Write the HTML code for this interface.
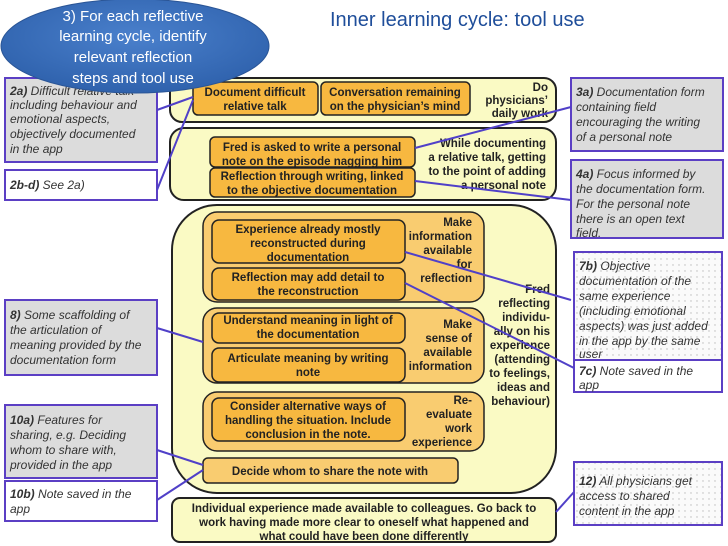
<!DOCTYPE html>
<html><head><meta charset="utf-8"><style>
html,body{margin:0;padding:0;background:#fff;}
svg{display:block;}
.b{font-family:"Liberation Sans",sans-serif;font-weight:bold;font-size:11.5px;fill:#222;}
.i{font-family:"Liberation Sans",sans-serif;font-style:italic;font-size:12px;fill:#333;}
</style></head><body>
<svg width="728" height="546" viewBox="0 0 728 546" xmlns="http://www.w3.org/2000/svg">
<defs>
<radialGradient id="eg" cx="50%" cy="40%" r="60%"><stop offset="0" stop-color="#4a80cc"/><stop offset="1" stop-color="#2f62ad"/></radialGradient>
<pattern id="dots" width="6" height="6" patternUnits="userSpaceOnUse"><rect width="6" height="6" fill="#fafafa"/><circle cx="1" cy="1" r="0.7" fill="#bbb"/></pattern>
</defs>
<text x="330" y="26" font-family="Liberation Sans,sans-serif" font-size="20" fill="#1f4e9a">Inner learning cycle: tool use</text>

<!-- left boxes -->
<rect x="5" y="78" width="152" height="84" fill="#dcdcdc" stroke="#5b3fc4" stroke-width="2"/>
<text class="i" x="10" y="95"><tspan font-weight="bold">2a)</tspan> Difficult relative talk</text>
<text class="i" x="10" y="109">including behaviour and</text>
<text class="i" x="10" y="123">emotional aspects,</text>
<text class="i" x="10" y="138">objectively documented</text>
<text class="i" x="10" y="153">in the app</text>
<rect x="5" y="170" width="152" height="30" fill="#fff" stroke="#5b3fc4" stroke-width="2"/>
<text class="i" x="10" y="189"><tspan font-weight="bold">2b-d)</tspan> See 2a)</text>
<rect x="5" y="300" width="152" height="75" fill="#dcdcdc" stroke="#5b3fc4" stroke-width="2"/>
<text class="i" x="10" y="319"><tspan font-weight="bold">8)</tspan> Some scaffolding of</text>
<text class="i" x="10" y="334">the articulation of</text>
<text class="i" x="10" y="349">meaning provided by the</text>
<text class="i" x="10" y="364">documentation form</text>
<rect x="5" y="405" width="152" height="73" fill="#dcdcdc" stroke="#5b3fc4" stroke-width="2"/>
<text class="i" x="10" y="424"><tspan font-weight="bold">10a)</tspan> Features for</text>
<text class="i" x="10" y="439">sharing, e.g. Deciding</text>
<text class="i" x="10" y="454">whom to share with,</text>
<text class="i" x="10" y="469">provided in the app</text>
<rect x="5" y="481" width="152" height="40" fill="#fff" stroke="#5b3fc4" stroke-width="2"/>
<text class="i" x="10" y="498"><tspan font-weight="bold">10b)</tspan> Note saved in the</text>
<text class="i" x="10" y="513">app</text>

<!-- right boxes -->
<rect x="571" y="78" width="152" height="73" fill="#dcdcdc" stroke="#5b3fc4" stroke-width="2"/>
<text class="i" x="576" y="96"><tspan font-weight="bold">3a)</tspan> Documentation form</text>
<text class="i" x="576" y="111">containing field</text>
<text class="i" x="576" y="126">encouraging the writing</text>
<text class="i" x="576" y="141">of a personal note</text>
<rect x="571" y="160" width="152" height="78" fill="#dcdcdc" stroke="#5b3fc4" stroke-width="2"/>
<text class="i" x="576" y="178"><tspan font-weight="bold">4a)</tspan> Focus informed by</text>
<text class="i" x="576" y="193">the documentation form.</text>
<text class="i" x="576" y="208">For the personal note</text>
<text class="i" x="576" y="223">there is an open text</text>
<text class="i" x="576" y="237">field.</text>
<rect x="574" y="252" width="148" height="108" fill="url(#dots)" stroke="#5b3fc4" stroke-width="2"/>
<text class="i" x="579" y="270"><tspan font-weight="bold">7b)</tspan> Objective</text>
<text class="i" x="579" y="285">documentation of the</text>
<text class="i" x="579" y="300">same experience</text>
<text class="i" x="579" y="315">(including emotional</text>
<text class="i" x="579" y="330">aspects) was just added</text>
<text class="i" x="579" y="345">in the app by the same</text>
<text class="i" x="579" y="358">user</text>
<rect x="574" y="360" width="148" height="32" fill="#fff" stroke="#5b3fc4" stroke-width="2"/>
<text class="i" x="579" y="375"><tspan font-weight="bold">7c)</tspan> Note saved in the</text>
<text class="i" x="579" y="389">app</text>
<rect x="574" y="462" width="148" height="63" fill="url(#dots)" stroke="#5b3fc4" stroke-width="2"/>
<text class="i" x="579" y="485"><tspan font-weight="bold">12)</tspan> All physicians get</text>
<text class="i" x="579" y="500">access to shared</text>
<text class="i" x="579" y="515">content in the app</text>

<!-- panels -->
<g stroke="#222" stroke-width="2">
<rect x="170" y="78" width="386" height="44" rx="12" fill="#fafac4"/>
<rect x="170" y="128" width="386" height="72" rx="14" fill="#fafac4"/>
<rect x="172" y="205" width="384" height="288" rx="45" fill="#fafac4"/>
<rect x="172" y="498" width="384" height="44" rx="8" fill="#fafac4"/>
</g>
<g stroke="#222" stroke-width="1.5" fill="#f7b840">
<rect x="193" y="82" width="125" height="33" rx="5"/>
<rect x="321" y="82" width="149" height="33" rx="5"/>
<rect x="210" y="137" width="205" height="30" rx="5"/>
<rect x="210" y="168" width="205" height="29" rx="5"/>
<rect x="203" y="212" width="281" height="90" rx="14" fill="#f9cc70"/>
<rect x="212" y="220" width="193" height="43" rx="7"/>
<rect x="212" y="268" width="193" height="32" rx="7"/>
<rect x="203" y="308" width="281" height="75" rx="14" fill="#f9cc70"/>
<rect x="212" y="313" width="193" height="30" rx="7"/>
<rect x="212" y="348" width="193" height="34" rx="7"/>
<rect x="203" y="392" width="281" height="59" rx="14" fill="#f9cc70"/>
<rect x="212" y="398" width="193" height="43" rx="7"/>
<rect x="203" y="458" width="255" height="25" rx="5" fill="#f9cc70"/>
</g>
<g class="b" text-anchor="middle">
<text x="255" y="96">Document difficult</text><text x="255" y="110">relative talk</text>
<text x="395" y="96">Conversation remaining</text><text x="395" y="110">on the physician’s mind</text>
<text x="312" y="151">Fred is asked to write a personal</text><text x="312" y="165">note on the episode nagging him</text>
<text x="312" y="180">Reflection through writing, linked</text><text x="312" y="194">to the objective documentation</text>
<text x="308" y="233">Experience already mostly</text><text x="308" y="247">reconstructed during</text><text x="308" y="261">documentation</text>
<text x="308" y="281">Reflection may add detail to</text><text x="308" y="295">the reconstruction</text>
<text x="308" y="324">Understand meaning in light of</text><text x="308" y="338">the documentation</text>
<text x="308" y="362">Articulate meaning by writing</text><text x="308" y="376">note</text>
<text x="308" y="410">Consider alternative ways of</text><text x="308" y="424">handling the situation. Include</text><text x="308" y="438">conclusion in the note.</text>
<text x="330" y="475">Decide whom to share the note with</text>
<text x="364" y="512">Individual experience made available to colleagues. Go back to</text>
<text x="364" y="526">work having made more clear to oneself what happened and</text>
<text x="364" y="540">what could have been done differently</text>
</g>
<g class="b" text-anchor="end">
<text x="548" y="91">Do</text><text x="548" y="104">physicians’</text><text x="548" y="117">daily work</text>
<text x="546" y="147">While documenting</text><text x="546" y="161">a relative talk, getting</text><text x="546" y="175">to the point of adding</text><text x="546" y="189">a personal note</text>
<text x="472" y="226">Make</text><text x="472" y="240">information</text><text x="472" y="254">available</text><text x="472" y="268">for</text><text x="472" y="282">reflection</text>
<text x="472" y="328">Make</text><text x="472" y="342">sense of</text><text x="472" y="356">available</text><text x="472" y="370">information</text>
<text x="472" y="404">Re-</text><text x="472" y="418">evaluate</text><text x="472" y="432">work</text><text x="472" y="446">experience</text>
<text x="550" y="293">Fred</text><text x="550" y="307">reflecting</text><text x="550" y="321">individu-</text><text x="550" y="335">ally on his</text><text x="550" y="349">experience</text><text x="550" y="363">(attending</text><text x="550" y="377">to feelings,</text><text x="550" y="391">ideas and</text><text x="550" y="405">behaviour)</text>
</g>

<!-- connectors -->
<g stroke="#5040c8" stroke-width="2" fill="none">
<line x1="157" y1="110" x2="193" y2="97"/>
<line x1="157" y1="190" x2="193" y2="100"/>
<line x1="571" y1="107" x2="415" y2="148"/>
<line x1="571" y1="200" x2="415" y2="181"/>
<line x1="571" y1="300" x2="405" y2="252"/>
<line x1="574" y1="368" x2="405" y2="283"/>
<line x1="157" y1="328" x2="203" y2="342"/>
<line x1="157" y1="450" x2="203" y2="465"/>
<line x1="157" y1="500" x2="203" y2="470"/>
<line x1="574" y1="492" x2="556" y2="512"/>
</g>

<!-- ellipse callout -->
<ellipse cx="135" cy="46" rx="134" ry="47" fill="url(#eg)" stroke="#2a5596" stroke-width="1"/>
<g font-family="Liberation Sans,sans-serif" font-size="15" fill="#fff" text-anchor="middle">
<text x="133" y="21">3) For each reflective</text>
<text x="133" y="41">learning cycle, identify</text>
<text x="133" y="62">relevant reflection</text>
<text x="133" y="83">steps and tool use</text>
</g>
</svg>
</body></html>
